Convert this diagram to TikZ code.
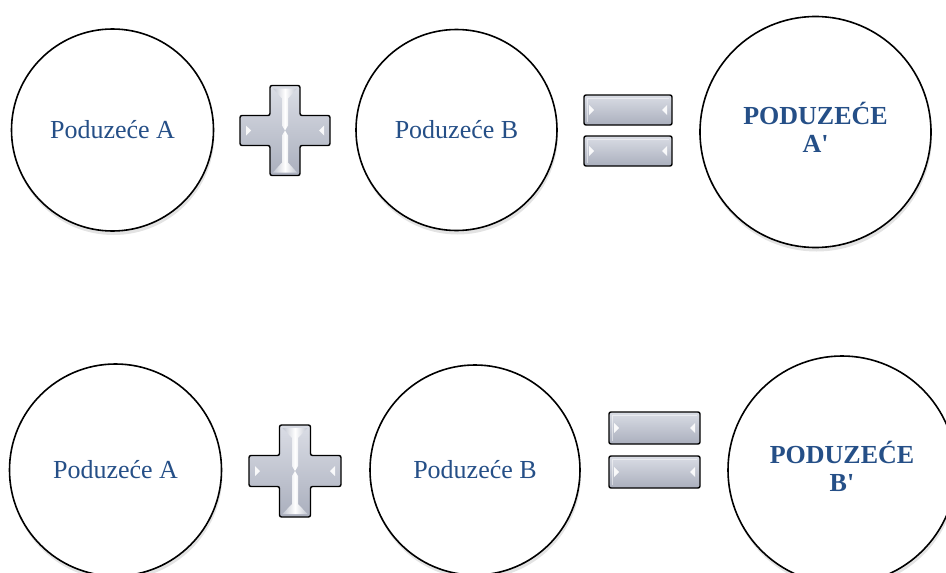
\documentclass[tikz,border=0pt]{standalone}
\usepackage{fontspec}
\setmainfont{Liberation Serif}[Ligatures=TeXOff]
\usetikzlibrary{shadows}
\definecolor{txt}{RGB}{37,79,135}
\definecolor{glight}{RGB}{218,221,229}
\definecolor{gmid}{RGB}{194,198,209}
\definecolor{gdark}{RGB}{170,175,189}
\tikzset{
  circ/.style={circle, draw=black, line width=1.6pt, fill=white, inner sep=0pt,
    drop shadow={shadow xshift=1pt, shadow yshift=-4pt, opacity=0.22}},
  plaintxt/.style={text=txt, font=\fontsize{26}{28}\selectfont, align=center},
  boldtxt/.style={text=txt, font=\bfseries\fontsize{26}{28}\selectfont, align=center},
  signfill/.style={draw=black, line width=1.4pt, rounded corners=2pt,
    top color=glight, bottom color=gdark, middle color=gmid},
  hl/.style={fill=white, opacity=0.9}
}
% plus sign: cx, cy, half extent, half arm width
\newcommand\plusmark[4]{%
  \draw[signfill]
    (#1-#4,#2-#3) -- (#1+#4,#2-#3) -- (#1+#4,#2-#4) -- (#1+#3,#2-#4) --
    (#1+#3,#2+#4) -- (#1+#4,#2+#4) -- (#1+#4,#2+#3) -- (#1-#4,#2+#3) --
    (#1-#4,#2+#4) -- (#1-#3,#2+#4) -- (#1-#3,#2-#4) -- (#1-#4,#2-#4) -- cycle;
  \shade[left color=gmid, right color=gmid, middle color=white]
    (#1-#4+3,#2-#3+3) -- (#1+#4-3,#2-#3+3) -- (#1+3,#2-#3+13) -- (#1+3,#2-5) --
    (#1,#2) -- (#1-3,#2-5) -- (#1-3,#2-#3+13) -- cycle;
  \shade[left color=gmid, right color=gmid, middle color=white]
    (#1-#4+3,#2+#3-3) -- (#1+#4-3,#2+#3-3) -- (#1+3,#2+#3-13) -- (#1+3,#2+5) --
    (#1,#2) -- (#1-3,#2+5) -- (#1-3,#2+#3-13) -- cycle;
  \fill[hl] (#1-#3+6,#2-5) -- (#1-#3+11,#2) -- (#1-#3+6,#2+5) -- cycle;
  \fill[hl] (#1+#3-6,#2-5) -- (#1+#3-11,#2) -- (#1+#3-6,#2+5) -- cycle;
}
% equals bar: x1, y1, x2, y2
\newcommand\eqbar[4]{%
  \draw[signfill] (#1,#2) rectangle (#3,#4);
  \draw[white, opacity=0.5, line width=0.8pt] (#1+3,#4-3) -- (#1+3,#2+3) -- (#3-3,#2+3);
  \fill[hl] (#1+5,{(#2+#4)/2-5}) -- (#1+10,{(#2+#4)/2}) -- (#1+5,{(#2+#4)/2+5}) -- cycle;
  \fill[hl] (#3-5,{(#2+#4)/2-5}) -- (#3-10,{(#2+#4)/2}) -- (#3-5,{(#2+#4)/2+5}) -- cycle;
}
\begin{document}
\begin{tikzpicture}[x=1pt,y=-1pt]
\useasboundingbox (0,0) rectangle (946,573);
\begin{scope}
\clip (0,0) rectangle (946,573);
% top row
\node[circ, minimum size=202pt, plaintxt] (a1) at (112.5,130) {Poduzeće A};
\plusmark{285}{130.5}{45}{15}
\node[circ, minimum size=201pt, plaintxt] (b1) at (456.5,130) {Poduzeće B};
\eqbar{584}{95}{672}{125}
\eqbar{584}{136}{672}{166}
\node[circ, minimum size=231pt] (r1) at (815.5,132) {};
\node[boldtxt] (r1t) at (815.5,127) {PODUZEĆE\\A'};
% bottom row
\node[circ, minimum size=212pt, plaintxt] (a2) at (115.5,470) {Poduzeće A};
\plusmark{295}{471}{46}{15.5}
\node[circ, minimum size=210pt, plaintxt] (b2) at (475,470) {Poduzeće B};
\eqbar{609}{412}{700}{444}
\eqbar{609}{456}{700}{488}
\node[circ, minimum size=228pt] (r2) at (842,470) {};
\node[boldtxt] (r2t) at (842,466) {PODUZEĆE\\B'};
\end{scope}
\end{tikzpicture}
\end{document}
